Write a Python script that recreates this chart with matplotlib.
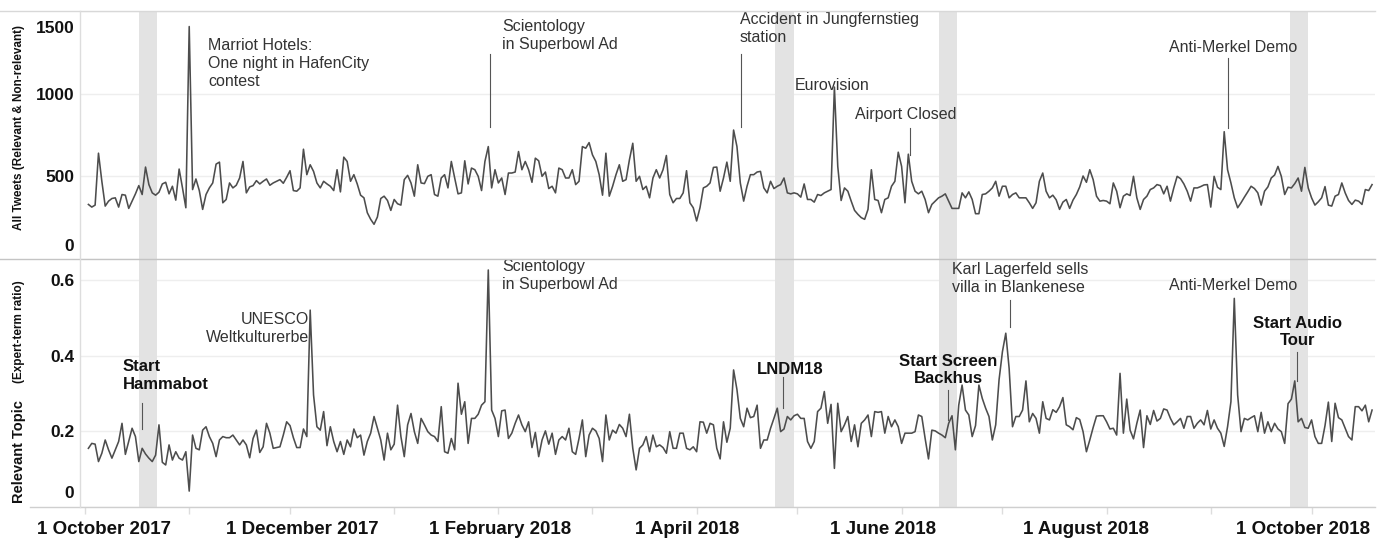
import matplotlib
matplotlib.use('Agg')
import matplotlib.pyplot as plt
import matplotlib.dates as mdates
from matplotlib.lines import Line2D
from matplotlib.transforms import ScaledTranslation
import pandas as pd

# ---------------- data ----------------
start_date = '2017-10-02'

all_tweets = [
    330, 314, 326, 640, 470, 320, 350, 366, 370, 314,
    390, 386, 306, 350, 394, 444, 390, 556, 450, 400,
    386, 404, 454, 464, 394, 440, 356, 544, 430, 310,
    1406, 420, 484, 414, 300, 390, 430, 460, 574, 586,
    340, 360, 460, 430, 446, 490, 590, 400, 436, 444,
    474, 454, 470, 484, 446, 460, 470, 480, 458, 494,
    534, 414, 410, 430, 664, 510, 570, 530, 460, 430,
    470, 454, 440, 414, 540, 406, 616, 590, 470, 510,
    454, 386, 370, 280, 240, 210, 254, 366, 380, 354,
    294, 360, 334, 326, 480, 506,
    460, 380, 570, 460, 456, 500, 510, 390, 380, 490,
    510, 430, 590, 490, 394, 400, 594, 454, 550, 540,
    500, 414, 590, 680, 430, 540, 460, 490, 390, 520,
    520, 526, 650, 540, 590, 540, 464, 610, 594, 500,
    526, 426, 440, 400, 550, 540, 490, 490, 540, 450,
    470, 680, 670, 704, 630, 590, 510, 386, 640, 380,
    440, 510, 570, 470, 480, 600, 700, 470, 500, 420,
    440, 370, 490, 540, 490, 540, 626, 390, 340, 366,
    366, 400, 534, 340, 310, 230, 310, 430, 440, 460,
    554, 556, 410, 490, 586, 470,
    780, 680, 460, 350, 440, 510, 510, 526, 530, 430,
    400, 470, 426, 440, 450, 490, 400, 394, 400, 394,
    374, 454, 360, 360, 344, 390, 384, 400, 410, 420,
    1040, 560, 354, 430, 410, 350, 294, 270, 250, 240,
    300, 540, 360, 354, 280, 360, 370, 440, 470, 646,
    560, 340, 634, 470, 410, 394, 410, 360, 280, 330,
    350, 370, 380, 394, 350, 306, 306, 306, 400, 370,
    406, 360, 274, 274, 390, 394, 410, 430, 470, 380,
    440, 440, 370, 390, 400, 370, 370, 370, 340, 306,
    340, 470, 520, 410, 370,
    386, 358, 300, 344, 360, 306, 356, 390, 436, 502,
    464, 540, 480, 380, 350, 354, 350, 334, 460, 410,
    310, 380, 394, 384, 500, 370, 300, 360, 380, 420,
    430, 450, 444, 394, 440, 350, 430, 500, 486, 454,
    410, 350, 430, 430, 438, 448, 450, 314, 500, 434,
    420, 770, 540, 460, 370, 310, 340, 374, 406, 440,
    426, 400, 326, 410, 436, 490, 508, 560, 500, 390,
    434, 430, 456, 490, 410, 554, 430, 370, 326, 346,
    370, 438, 326, 320, 380, 390, 460, 400, 354, 330,
    356, 350, 330, 420, 414, 450,
]

relevant_ratio = [
    0.155, 0.168, 0.166, 0.120, 0.142, 0.177, 0.151, 0.129, 0.151, 0.173,
    0.221, 0.139, 0.173, 0.208, 0.186, 0.120, 0.155, 0.140, 0.129, 0.120,
    0.137, 0.217, 0.118, 0.111, 0.164, 0.124, 0.146, 0.129, 0.124, 0.146,
    0.042, 0.190, 0.155, 0.151, 0.203, 0.212, 0.186, 0.168, 0.133, 0.177,
    0.186, 0.183, 0.183, 0.190, 0.177, 0.164, 0.177, 0.164, 0.130, 0.181,
    0.203, 0.144, 0.159, 0.221, 0.195, 0.155, 0.157, 0.159, 0.190, 0.225,
    0.215, 0.183, 0.157, 0.157, 0.206, 0.186, 0.520, 0.296, 0.212, 0.203,
    0.252, 0.162, 0.212, 0.173, 0.146, 0.173, 0.139, 0.177, 0.159, 0.206,
    0.183, 0.190, 0.137, 0.173, 0.195, 0.239, 0.208, 0.177, 0.124, 0.195,
    0.151, 0.166, 0.269, 0.186, 0.133, 0.217,
    0.247, 0.199, 0.168, 0.234, 0.217, 0.199, 0.190, 0.186, 0.173, 0.265,
    0.146, 0.142, 0.181, 0.151, 0.327, 0.245, 0.278, 0.168, 0.234, 0.234,
    0.245, 0.269, 0.278, 0.626, 0.256, 0.234, 0.186, 0.254, 0.256, 0.181,
    0.195, 0.221, 0.243, 0.217, 0.199, 0.225, 0.157, 0.197, 0.133, 0.177,
    0.201, 0.166, 0.195, 0.139, 0.177, 0.186, 0.177, 0.208, 0.146, 0.139,
    0.181, 0.230, 0.133, 0.190, 0.208, 0.201, 0.181, 0.120, 0.243, 0.177,
    0.203, 0.195, 0.218, 0.208, 0.186, 0.245, 0.155, 0.098, 0.155, 0.164,
    0.186, 0.146, 0.190, 0.159, 0.164, 0.157, 0.142, 0.199, 0.155, 0.155,
    0.195, 0.195, 0.155, 0.151, 0.159, 0.146, 0.225, 0.224, 0.195, 0.221,
    0.217, 0.155, 0.127, 0.225, 0.171, 0.208,
    0.362, 0.310, 0.234, 0.212, 0.261, 0.236, 0.239, 0.269, 0.155, 0.177,
    0.177, 0.208, 0.234, 0.261, 0.199, 0.206, 0.239, 0.230, 0.241, 0.245,
    0.234, 0.234, 0.173, 0.155, 0.173, 0.252, 0.261, 0.305, 0.221, 0.271,
    0.102, 0.274, 0.199, 0.217, 0.239, 0.173, 0.217, 0.159, 0.221, 0.230,
    0.243, 0.186, 0.252, 0.250, 0.252, 0.195, 0.239, 0.212, 0.230, 0.212,
    0.168, 0.195, 0.195, 0.195, 0.199, 0.243, 0.239, 0.181, 0.127, 0.203,
    0.201, 0.195, 0.190, 0.183, 0.221, 0.241, 0.151, 0.269, 0.322, 0.256,
    0.243, 0.186, 0.215, 0.322, 0.287, 0.261, 0.239, 0.177, 0.217, 0.336,
    0.410, 0.459, 0.366, 0.212, 0.239, 0.239, 0.256, 0.333, 0.225, 0.247,
    0.234, 0.195, 0.278, 0.234, 0.230,
    0.257, 0.250, 0.265, 0.289, 0.217, 0.212, 0.204, 0.236, 0.231, 0.199,
    0.146, 0.177, 0.210, 0.240, 0.241, 0.241, 0.225, 0.206, 0.208, 0.190,
    0.353, 0.195, 0.285, 0.203, 0.180, 0.221, 0.256, 0.157, 0.241, 0.218,
    0.255, 0.227, 0.234, 0.259, 0.256, 0.234, 0.217, 0.225, 0.234, 0.208,
    0.239, 0.239, 0.208, 0.221, 0.230, 0.217, 0.255, 0.206, 0.230, 0.208,
    0.195, 0.160, 0.212, 0.278, 0.551, 0.296, 0.199, 0.234, 0.230, 0.236,
    0.241, 0.199, 0.250, 0.195, 0.225, 0.199, 0.221, 0.206, 0.199, 0.168,
    0.273, 0.285, 0.333, 0.225, 0.234, 0.210, 0.208, 0.230, 0.186, 0.168,
    0.168, 0.215, 0.277, 0.173, 0.274, 0.236, 0.230, 0.208, 0.186, 0.177,
    0.265, 0.265, 0.254, 0.269, 0.225, 0.256,
]

x_tick_dates = ['2017-10-01', '2017-12-01', '2018-02-01', '2018-04-01',
                '2018-06-01', '2018-08-01', '2018-10-01']
x_tick_labels = ['1 October 2017', '1 December 2017', '1 February 2018',
                 '1 April 2018', '1 June 2018', '1 August 2018', '1 October 2018']
# horizontal nudge of each date label (pixels), as placed in the original layout
x_label_nudge_px = [19, 12, 2, -9, -19, -21, -9]

top_yticks = [0, 500, 1000, 1500]
top_ytick_labels = ['0', '500', '1000', '1500']
top_label_nudge_px = [14, 0, 0, -16]
bot_yticks = [0, 0.2, 0.4, 0.6]
bot_ytick_labels = ['0', '0.2', '0.4', '0.6']
bot_label_nudge_px = [15, 0, 0, 0]

# highlighted weeks (grey bands)
bands = [('2017-10-17 02:00', '2017-10-22 10:00'),
         ('2018-04-24 10:00', '2018-04-30 00:00'),
         ('2018-06-12 05:00', '2018-06-17 12:00'),
         ('2018-09-24 14:00', '2018-09-30 00:00')]

# annotations: text, text date, text y, ha, va, bold, leader date, leader y range
top_notes = [
    ('Marriot Hotels:\nOne night in HafenCity\ncontest', '2017-11-06 14:00', 1337, 'left', 'top', False, None, None),
    ('Scientology\nin Superbowl Ad', '2018-02-02 02:00', 1450, 'left', 'top', False, '2018-01-29 10:00', (798, 1240)),
    ('Accident in Jungfernstieg\nstation', '2018-04-13 22:00', 1492, 'left', 'top', False, '2018-04-14 05:00', (798, 1240)),
    ('Eurovision', '2018-04-30 07:00', 1052, 'left', 'center', False, None, None),
    ('Airport Closed', '2018-05-18 05:00', 871, 'left', 'center', False, '2018-06-03 10:00', (629, 792)),
    ('Anti-Merkel Demo', '2018-09-07 17:00', 1282, 'center', 'center', False, '2018-09-06 05:00', (792, 1216)),
]
bot_notes = [
    ('Start\nHammabot', '2017-10-12 07:00', 0.390, 'left', 'top', True, '2017-10-18 00:00', (0.206, 0.275)),
    ('UNESCO\nWeltkulturerbe', '2017-12-06 16:00', 0.514, 'right', 'top', False, None, None),
    ('Scientology\nin Superbowl Ad', '2018-02-02 02:00', 0.654, 'left', 'top', False, None, None),
    ('LNDM18', '2018-04-28 19:00', 0.362, 'center', 'center', True, '2018-04-26 17:00', (0.261, 0.343)),
    ('Start Screen\nBackhus', '2018-06-14 19:00', 0.362, 'center', 'center', True, '2018-06-14 19:00', (0.230, 0.309)),
    ('Karl Lagerfeld sells\nvilla in Blankenese', '2018-06-16 00:00', 0.648, 'left', 'top', False, '2018-07-03 07:00', (0.475, 0.547)),
    ('Anti-Merkel Demo', '2018-09-07 17:00', 0.584, 'center', 'center', False, None, None),
    ('Start Audio\nTour', '2018-09-26 17:00', 0.462, 'center', 'center', True, '2018-09-26 17:00', (0.333, 0.409)),
]

# ---------------- styling ----------------
plt.rcParams['font.family'] = ['Liberation Sans', 'DejaVu Sans']
LINE = '#4d4d4d'
BAND = '#e3e3e3'
GRID = '#eeeeee'
W, H = 1384, 544

dates = pd.date_range(start_date, periods=len(all_tweets), freq='D')

fig = plt.figure(figsize=(W / 100, H / 100), dpi=100)


def rect(x0, y0, x1, y1):
    return [x0 / W, 1 - y1 / H, (x1 - x0) / W, (y1 - y0) / H]


def nudge(label, dx_px, dy_px):
    label.set_transform(label.get_transform() +
                        ScaledTranslation(dx_px / 100, dy_px / 100, fig.dpi_scale_trans))


ax_top = fig.add_axes(rect(80, 11, 1375, 259))
ax_bot = fig.add_axes(rect(80, 259, 1375, 507))

xlim = (pd.Timestamp('2017-09-29 12:00'), pd.Timestamp('2018-10-19 21:00'))

for ax in (ax_top, ax_bot):
    for s in ax.spines.values():
        s.set_visible(False)
    ax.set_xlim(*xlim)
    ax.grid(axis='y', color=GRID, lw=1.0)
    ax.set_axisbelow(True)
    for b0, b1 in bands:
        ax.axvspan(pd.Timestamp(b0), pd.Timestamp(b1), color=BAND, lw=0, zorder=1)
    ax.tick_params(axis='y', length=0, pad=4, labelsize=12.5, labelcolor='#111111')

ax_top.plot(dates, all_tweets, color=LINE, lw=1.15, zorder=3)
ax_bot.plot(dates, relevant_ratio, color=LINE, lw=1.15, zorder=3)

ax_top.set_ylim(0, 1500)
ax_bot.set_ylim(0, 0.655)

ax_top.set_yticks(top_yticks)
ax_top.set_yticklabels(top_ytick_labels, fontweight='bold')
ax_bot.set_yticks(bot_yticks)
ax_bot.set_yticklabels(bot_ytick_labels, fontweight='bold')
for lbl, dy in zip(ax_top.get_yticklabels(), top_label_nudge_px):
    nudge(lbl, 0, dy)
for lbl, dy in zip(ax_bot.get_yticklabels(), bot_label_nudge_px):
    nudge(lbl, 0, dy)

ax_top.tick_params(axis='x', which='both', length=0, labelbottom=False)
ax_bot.set_xticks([pd.Timestamp(d) for d in x_tick_dates])
ax_bot.set_xticklabels(x_tick_labels, fontweight='bold', fontsize=13.5, color='#111111')
ax_bot.xaxis.set_minor_locator(mdates.MonthLocator())
ax_bot.tick_params(axis='x', which='both', length=5, width=1, color='#dddddd', pad=5)
for lbl, dx in zip(ax_bot.get_xticklabels(), x_label_nudge_px):
    nudge(lbl, dx, 0)

# annotations
for ax, notes in ((ax_top, top_notes), (ax_bot, bot_notes)):
    for text, tdate, ty, ha, va, bold, ldate, lrange in notes:
        ax.text(pd.Timestamp(tdate), ty, text, ha=ha, va=va,
                fontsize=12 if bold else 11.5,
                fontweight='bold' if bold else 'normal',
                color='#111111' if bold else '#333333',
                linespacing=1.2 if bold else 1.25, zorder=4)
        if ldate is not None:
            ax.plot([pd.Timestamp(ldate)] * 2, list(lrange), color='#555555', lw=0.8, zorder=4)

# frame lines
fig.add_artist(Line2D([0, 1375 / W], [1 - 11 / H] * 2, color='#d8d8d8', lw=1))
fig.add_artist(Line2D([0, 1375 / W], [1 - 259 / H] * 2, color='#c4c4c4', lw=1))
fig.add_artist(Line2D([30 / W, 1375 / W], [1 - 507 / H] * 2, color='#cfcfcf', lw=1))
fig.add_artist(Line2D([80 / W] * 2, [1 - 11 / H, 1 - 507 / H], color='#dddddd', lw=1))

# axis titles
fig.text(19 / W, 1 - 127 / H, 'All Tweets (Relevant & Non-relevant)', rotation=90,
         ha='center', va='center', fontsize=8.5, fontweight='bold', color='#111111')
fig.text(19 / W, 1 - 452 / H, 'Relevant Topic', rotation=90,
         ha='center', va='center', fontsize=10.5, fontweight='bold', color='#111111')
fig.text(19 / W, 1 - 332 / H, '(Expert-term ratio)', rotation=90,
         ha='center', va='center', fontsize=8.5, fontweight='bold', color='#111111')

fig.savefig('out.png', dpi=100)
